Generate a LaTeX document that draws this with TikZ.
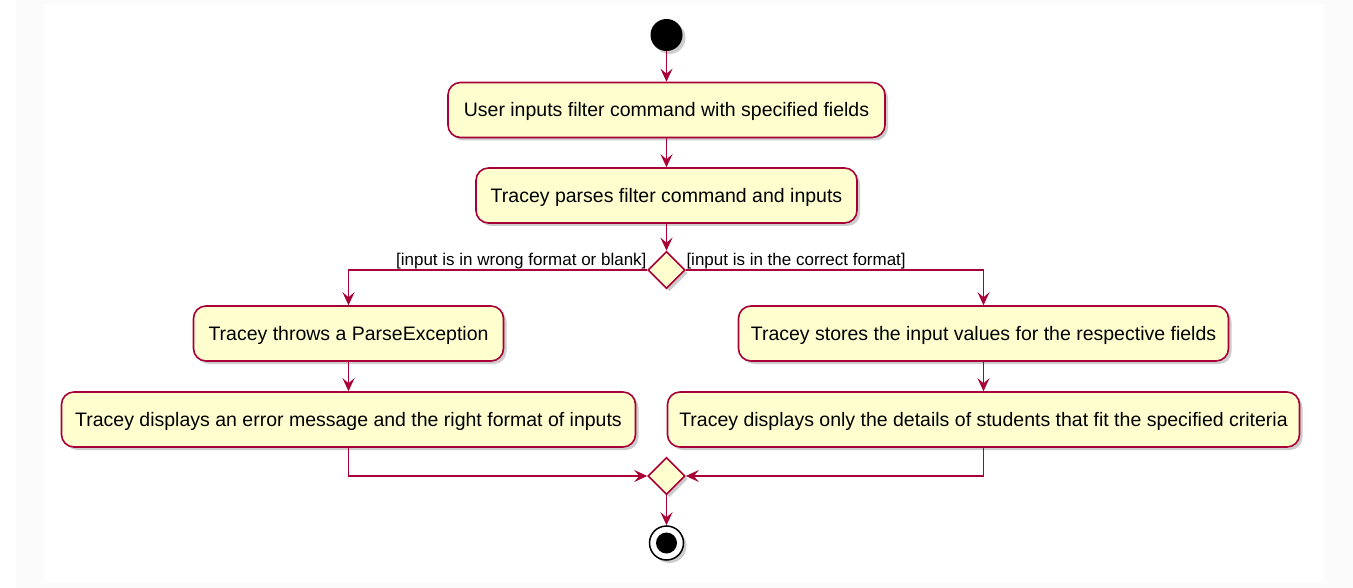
\documentclass[tikz,border=0pt]{standalone}
\usepackage{fontspec}
\setmainfont{Liberation Sans}
\usetikzlibrary{shapes.geometric,arrows.meta,shadows}
\definecolor{umlred}{HTML}{A80036}
\definecolor{umlfill}{HTML}{FEFECE}
\definecolor{bggray}{HTML}{FBFBFB}
\begin{document}
\begin{tikzpicture}[x=1pt,y=-1pt,
  shad/.style={drop shadow={shadow xshift=3pt,shadow yshift=-3pt,opacity=0.28,fill=black!70}},
  act/.style={draw=umlred,fill=umlfill,line width=1.6pt,rounded corners=12.5pt,
    minimum height=55pt,inner sep=0pt,text height=14pt,text depth=0pt,
    font=\fontsize{19.5}{22}\selectfont,shad},
  dec/.style={diamond,draw=umlred,fill=umlfill,line width=1.6pt,minimum width=37pt,
    minimum height=37pt,inner sep=0pt,shad},
  arr/.style={draw=umlred,line width=1.6pt,-{Stealth[length=13pt,width=12pt,inset=5pt]}},
  lbl/.style={inner sep=0.5pt,font=\fontsize{17}{20}\selectfont}
]
\useasboundingbox (0,0) rectangle (1353,588);
\fill[bggray] (16,0) rectangle (1353,588);
\fill[white] (44,4) rectangle (1324,583);

\node[circle,fill=black,minimum size=32pt,inner sep=0pt,shad] (start) at (666.5,35) {};
\node[act,minimum width=437pt] (b1) at (666.5,110) {User inputs filter command with specified fields};
\node[act,minimum width=381pt] (b2) at (666.5,195.5) {Tracey parses filter command and inputs};
\node[dec] (d1) at (666.5,270) {};
\node[lbl,anchor=south east] (lw) at (d1.west) {[input is in wrong format or blank]};
\node[lbl,anchor=south west] (lr) at (d1.east) {[input is in the correct format]};
\node[act,minimum width=310pt] (l1) at (348.5,333.5) {Tracey throws a ParseException};
\node[act,minimum width=574pt] (l2) at (348.5,419.5) {Tracey displays an error message and the right format of inputs};
\node[act,minimum width=490pt] (r1) at (983.5,333.5) {Tracey stores the input values for the respective fields};
\node[act,minimum width=632pt] (r2) at (983.5,419.5) {Tracey displays only the details of students that fit the specified criteria};
\node[dec] (d2) at (666.5,476) {};
\node[circle,draw=black,line width=1.5pt,fill=white,minimum size=34pt,inner sep=0pt,shad] (endo) at (666.5,543) {};
\node[circle,fill=black,minimum size=21pt,inner sep=0pt] (endi) at (endo.center) {};

\draw[arr] (start) -- (b1);
\draw[arr] (b1) -- (b2);
\draw[arr] (b2) -- (d1);
\draw[arr] (d1.west) -| (l1.north);
\draw[arr] (d1.east) -| (r1.north);
\draw[arr] (l1) -- (l2);
\draw[arr] (r1) -- (r2);
\draw[arr] (l2.south) |- (d2.west);
\draw[arr] (r2.south) |- (d2.east);
\draw[arr] (d2) -- (endo);
\end{tikzpicture}
\end{document}
